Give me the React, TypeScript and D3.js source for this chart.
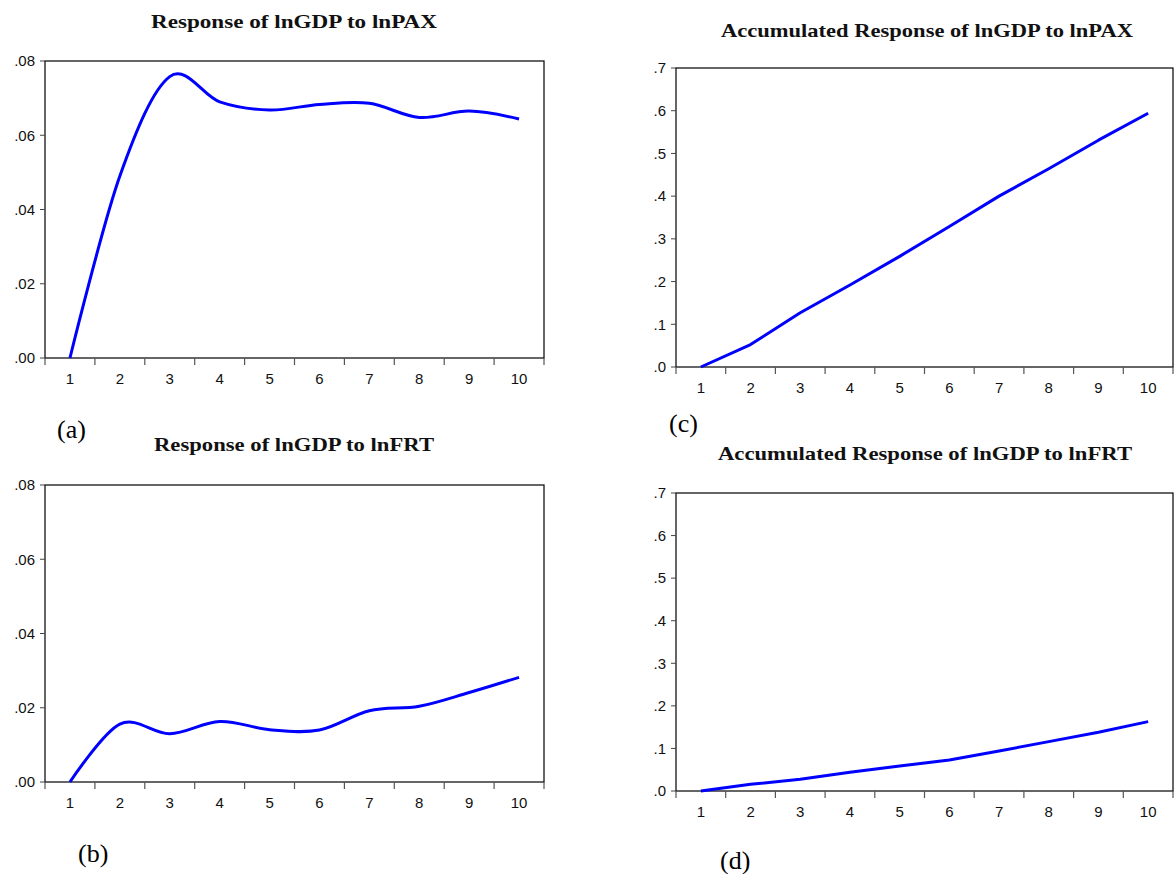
import React from "react";
import * as d3 from "d3";

const periods = [1, 2, 3, 4, 5, 6, 7, 8, 9, 10];

const respPAX = [0, 0.049, 0.0758, 0.069, 0.0668, 0.0683, 0.0686, 0.0648, 0.0665, 0.0644];
const respFRT = [0, 0.0156, 0.013, 0.0163, 0.0141, 0.014, 0.0192, 0.0204, 0.0241, 0.0282];
const accPAX = [0, 0.0525, 0.127, 0.192, 0.259, 0.329, 0.4, 0.464, 0.531, 0.594];
const accFRT = [0, 0.0156, 0.0274, 0.0438, 0.0587, 0.0727, 0.0939, 0.116, 0.138, 0.163];

const respTicks = [0, 0.02, 0.04, 0.06, 0.08];
const respTickLabels = [".00", ".02", ".04", ".06", ".08"];
const accTicks = [0, 0.1, 0.2, 0.3, 0.4, 0.5, 0.6, 0.7];
const accTickLabels = [".0", ".1", ".2", ".3", ".4", ".5", ".6", ".7"];

const titles = [
  "Response of lnGDP to lnPAX",
  "Response of lnGDP to lnFRT",
  "Accumulated Response of lnGDP to lnPAX",
  "Accumulated Response of lnGDP to lnFRT",
];
const panelLetters = ["(a)", "(b)", "(c)", "(d)"];

type PanelProps = {
  left: number; right: number; top: number; bottom: number;
  values: number[]; ticks: number[]; tickLabels: string[];
  title: string; titleX: number; titleY: number; titleW: number;
  letter: string; letterX: number; letterY: number;
  smooth: boolean;
};

function Panel(p: PanelProps) {
  const x = d3.scaleBand<number>().domain(periods).range([p.left, p.right]);
  const y = d3.scaleLinear().domain([p.ticks[0], p.ticks[p.ticks.length - 1]]).range([p.bottom, p.top]);
  const cx = (d: number) => (x(d) as number) + x.bandwidth() / 2;
  const line = d3
    .line<number>()
    .x((_, i) => cx(periods[i]))
    .y((v) => y(v))
    .curve(p.smooth ? d3.curveCardinal.tension(0) : d3.curveLinear);
  const bounds = periods.map((d) => x(d) as number).concat([p.right]);
  return (
    <g>
      <text
        x={p.titleX}
        y={p.titleY}
        textAnchor="middle"
        fontFamily="'Liberation Serif', serif"
        fontWeight="bold"
        fontSize={19}
        textLength={p.titleW}
        lengthAdjust="spacingAndGlyphs"
        fill="#111"
      >
        {p.title}
      </text>
      <rect x={p.left} y={p.top} width={p.right - p.left} height={p.bottom - p.top} fill="none" stroke="#000" strokeWidth={1.2} />
      {p.ticks.map((t, i) => (
        <g key={"y" + i}>
          <line x1={p.left - 5} x2={p.left} y1={y(t)} y2={y(t)} stroke="#444" strokeWidth={1} />
          <text
            x={p.left - 10}
            y={y(t)}
            dy="0.35em"
            textAnchor="end"
            fontFamily="'Liberation Sans', Arial, sans-serif"
            fontSize={15}
            fill="#111"
          >
            {p.tickLabels[i]}
          </text>
        </g>
      ))}
      {bounds.map((b, i) => (
        <line key={"xt" + i} x1={b} x2={b} y1={p.bottom} y2={p.bottom + 7} stroke="#555" strokeWidth={1.2} />
      ))}
      {periods.map((d) => (
        <text
          key={"xl" + d}
          x={cx(d)}
          y={p.bottom + 21}
          dy="0.35em"
          textAnchor="middle"
          fontFamily="'Liberation Sans', Arial, sans-serif"
          fontSize={15}
          fill="#111"
        >
          {d}
        </text>
      ))}
      <path d={line(p.values) || ""} fill="none" stroke="#0000ff" strokeWidth={3} strokeLinejoin="round" />
      <text x={p.letterX} y={p.letterY} fontFamily="'Liberation Serif', serif" fontSize={26} fill="#000">
        {p.letter}
      </text>
    </g>
  );
}

export default function App() {
  return (
    <svg width={1174} height={874} style={{ position: "absolute", left: 0, top: 0, background: "#fff" }}>
      <rect x={0} y={0} width={1174} height={874} fill="#fff" />
      <Panel left={45} right={544} top={61} bottom={358} values={respPAX} ticks={respTicks} tickLabels={respTickLabels}
        title={titles[0]} titleX={294} titleY={28} titleW={286} letter={panelLetters[0]} letterX={57} letterY={438} smooth />
      <Panel left={45} right={544} top={485} bottom={782} values={respFRT} ticks={respTicks} tickLabels={respTickLabels}
        title={titles[1]} titleX={294} titleY={451} titleW={280} letter={panelLetters[1]} letterX={78} letterY={862} smooth />
      <Panel left={676} right={1173} top={68} bottom={367} values={accPAX} ticks={accTicks} tickLabels={accTickLabels}
        title={titles[2]} titleX={927} titleY={37} titleW={412} letter={panelLetters[2]} letterX={669} letterY={432} smooth={false} />
      <Panel left={676} right={1173} top={493} bottom={791} values={accFRT} ticks={accTicks} tickLabels={accTickLabels}
        title={titles[3]} titleX={925} titleY={460} titleW={414} letter={panelLetters[3]} letterX={720} letterY={869} smooth={false} />
    </svg>
  );
}
